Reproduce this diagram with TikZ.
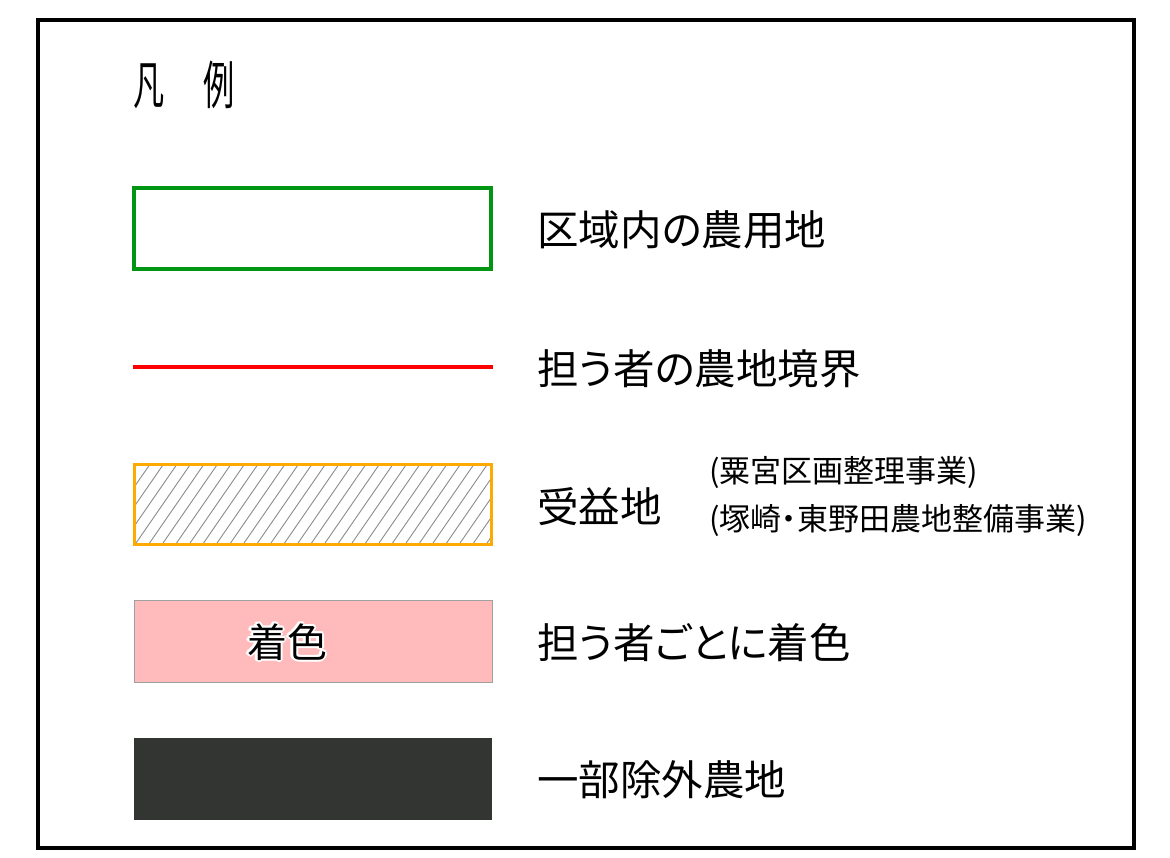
\documentclass[tikz,border=0pt]{standalone}
\usepackage{fontspec}
\usetikzlibrary{calc}
\newfontfamily\jp{Noto Sans CJK JP}
\newfontfamily\jpp[RawFeature=+palt]{Noto Sans CJK JP}
\definecolor{boxgreen}{RGB}{0,150,20}
\definecolor{linered}{RGB}{255,0,0}
\definecolor{hatchorange}{RGB}{255,170,0}
\definecolor{hatchgray}{RGB}{140,140,140}
\definecolor{pinkfill}{RGB}{255,187,187}
\definecolor{pinkedge}{RGB}{160,160,160}
\definecolor{darkfill}{RGB}{51,53,50}
\tikzset{
  lbl/.style={anchor=west,inner sep=0pt,font=\jpp\fontsize{41.5}{48}\selectfont},
  sublbl/.style={anchor=west,inner sep=0pt,font=\jpp\fontsize{31}{36}\selectfont},
  halo/.style={inner sep=0pt,font=\jp\fontsize{40}{46}\selectfont}
}
\begin{document}
\begin{tikzpicture}[x=1pt,y=-1pt]
\useasboundingbox (0,0) rectangle (1170,858);
\fill[white] (0,0) rectangle (1170,858);
% outer frame
\draw[line width=4pt] (38,20) rectangle (1134,848);
% title
\node[inner sep=0pt,font=\jp\fontsize{52}{60}\selectfont] (title) at (184,85)
  {\scalebox{0.6}[1]{凡}\hspace{38pt}\scalebox{0.6}[1]{例}};
% green box
\draw[boxgreen,line width=4pt] (134,188) rectangle (491,269);
\node[lbl] (l1) at (537,230) {区域内の農用地};
% red line
\draw[linered,line width=4pt] (133,367) -- (493,367);
\node[lbl] (l2) at (537,369) {担う者の農地境界};
% hatched box
\begin{scope}
\clip (134,464) rectangle (491,544);
\foreach \i in {-6,...,28} {
  \draw[hatchgray,line width=0.9pt] (134+\i*13.5,546) -- ++(58,-84);
}
\end{scope}
\draw[hatchorange,line width=3pt] (134,464) rectangle (491,544);
\node[lbl] (l3) at (537,507) {受益地};
\node[sublbl] (s1) at (709,473) {(粟宮区画整理事業)};
\node[sublbl] (s2) at (709,521) {(塚崎・東野田農地整備事業)};
% pink box
\draw[pinkedge,fill=pinkfill,line width=1pt] (134,600) rectangle (492,682);
\foreach \a in {0,45,...,315} {
  \node[halo,text=white] at ($(287,642)+(\a:2.3)$) {着色};
}
\node[halo] (pinktext) at (287,642) {着色};
\node[lbl] (l4) at (537,643) {担う者ごとに着色};
% dark box
\fill[darkfill] (134,738) rectangle (492,820);
\node[lbl] (l5) at (537,780) {一部除外農地};
\end{tikzpicture}
\end{document}
